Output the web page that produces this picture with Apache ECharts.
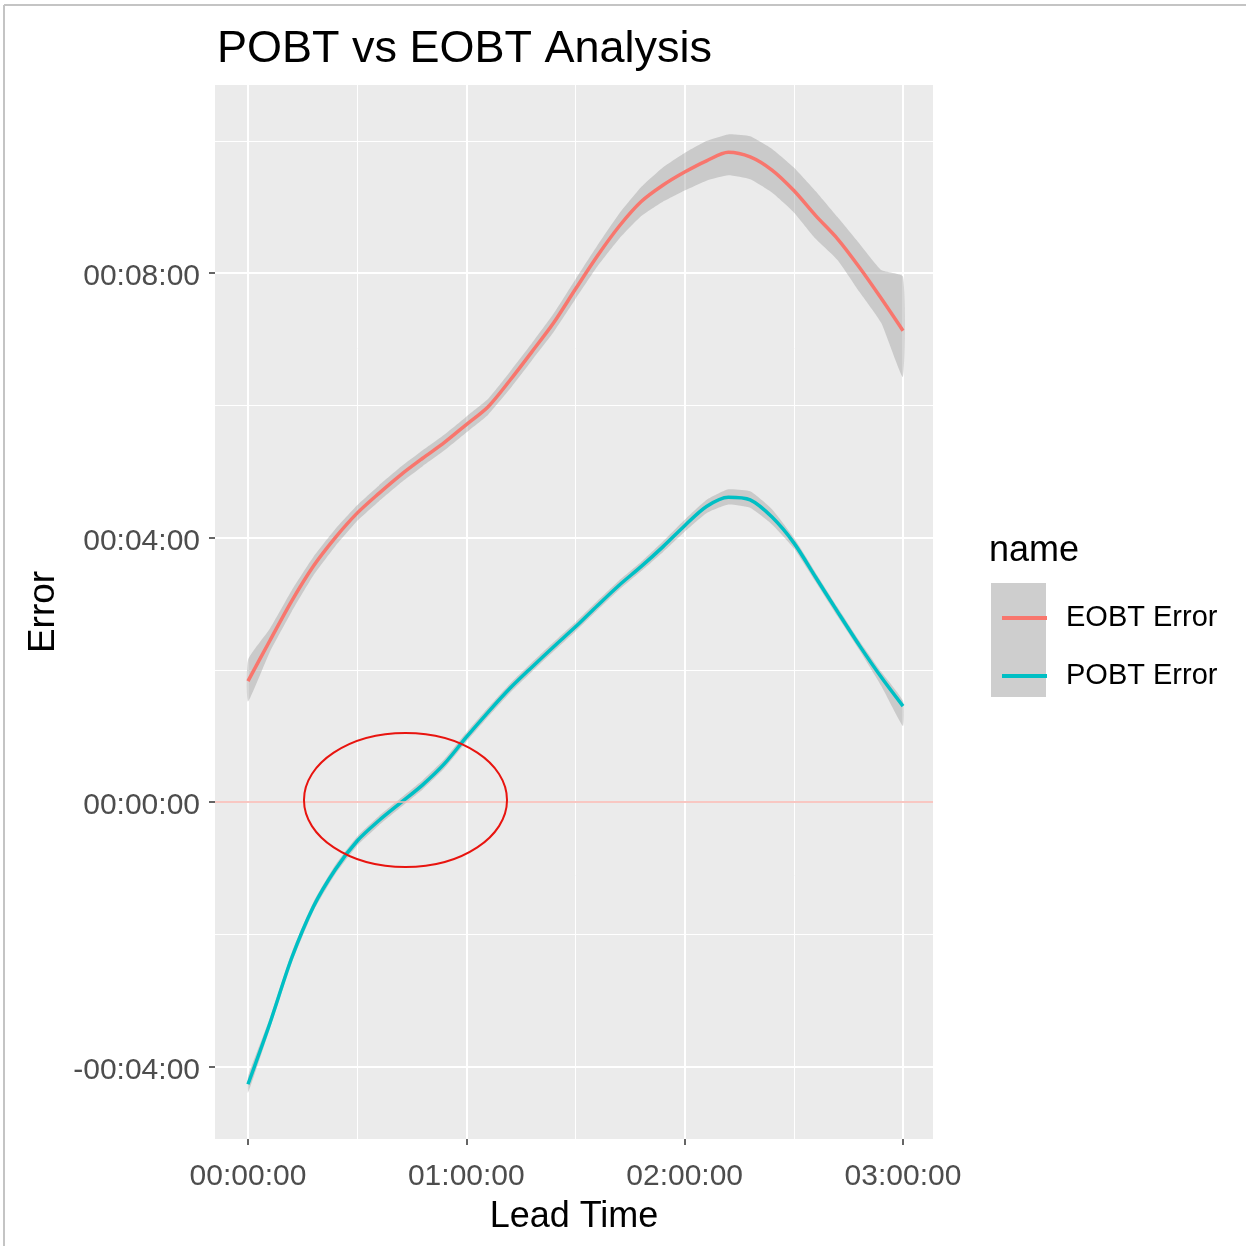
<!DOCTYPE html>
<html>
<head>
<meta charset="utf-8">
<script src="https://cdn.jsdelivr.net/npm/echarts@6.0.0/dist/echarts.min.js"></script>
<style>
html,body{margin:0;padding:0;background:#fff;}
#chart{width:1246px;height:1246px;}
</style>
</head>
<body>
<div id="chart"></div>
<script>
// ---- data (x: lead time in hours, y: error in minutes) ----
const leadTimeHours = [0.0,0.1,0.2,0.3,0.4,0.5,0.6,0.7,0.8,0.9,1.0,1.1,1.2,1.3,1.4,1.5,1.6,1.7,1.8,1.9,2.0,2.1,2.2,2.3,2.4,2.5,2.6,2.7,2.8,2.9,3.0];

const eobtError = [1.83,2.44,3.04,3.57,4.00,4.37,4.67,4.95,5.20,5.44,5.71,5.98,6.38,6.81,7.25,7.76,8.26,8.71,9.08,9.33,9.53,9.70,9.83,9.76,9.56,9.25,8.87,8.52,8.09,7.62,7.13];
const eobtUpper = [2.15,2.62,3.20,3.71,4.13,4.49,4.79,5.07,5.32,5.56,5.83,6.10,6.51,6.94,7.39,7.91,8.42,8.90,9.30,9.60,9.82,10.00,10.10,10.07,9.88,9.60,9.24,8.85,8.45,8.05,7.95];
const eobtLower = [1.52,2.27,2.88,3.43,3.87,4.25,4.55,4.83,5.08,5.32,5.59,5.86,6.25,6.68,7.11,7.61,8.10,8.52,8.86,9.08,9.25,9.40,9.48,9.42,9.22,8.92,8.52,8.20,7.72,7.25,6.43];

const pobtError = [-4.27,-3.35,-2.36,-1.58,-1.02,-0.59,-0.28,-0.01,0.26,0.58,0.98,1.36,1.72,2.04,2.35,2.65,2.97,3.28,3.56,3.86,4.18,4.47,4.61,4.57,4.31,3.92,3.40,2.88,2.37,1.89,1.45];
const pobtUpper = [-4.15,-3.27,-2.28,-1.51,-0.95,-0.52,-0.21,0.06,0.33,0.65,1.05,1.43,1.79,2.11,2.42,2.72,3.04,3.35,3.63,3.94,4.27,4.57,4.73,4.70,4.43,4.00,3.47,2.95,2.44,1.97,1.53];
const pobtLower = [-4.40,-3.43,-2.44,-1.65,-1.09,-0.66,-0.35,-0.08,0.19,0.51,0.91,1.29,1.65,1.97,2.28,2.58,2.90,3.21,3.49,3.78,4.09,4.37,4.50,4.45,4.20,3.84,3.33,2.81,2.30,1.76,1.15];

const seriesNames = ['EOBT Error', 'POBT Error'];

const xTicks = [0, 1, 2, 3];
const xTickLabels = ['00:00:00', '01:00:00', '02:00:00', '03:00:00'];
const xMinorTicks = [0.5, 1.5, 2.5];
const yTicks = [-4, 0, 4, 8];
const yTickLabels = ['-00:04:00', '00:00:00', '00:04:00', '00:08:00'];
const yMinorTicks = [-2, 2, 6, 10];

const referenceLine = [0];
// highlighted region (centre x, centre y, radius x, radius y) in data units
const highlightEllipse = [0.7214, 0.03, 0.465, 1.014];

// ---- chart ----
const FONT = '"Liberation Sans", Arial, sans-serif';
const X_MIN = -0.1511, X_MAX = 3.1374;
const Y_MIN = -5.098, Y_MAX = 10.847;

const pairs = ys => leadTimeHours.map((x, i) => [x, ys[i]]);

function bandSeries(upper, lower) {
  return {
    type: 'custom',
    coordinateSystem: 'cartesian2d',
    silent: true,
    z: 1,
    data: [[leadTimeHours[0], lower[0]]],
    encode: { x: 0, y: 1 },
    renderItem: function (params, api) {
      const pts = [];
      for (let i = 0; i < leadTimeHours.length; i++) pts.push(api.coord([leadTimeHours[i], upper[i]]));
      for (let i = leadTimeHours.length - 1; i >= 0; i--) pts.push(api.coord([leadTimeHours[i], lower[i]]));
      return { type: 'polygon', shape: { points: pts, smooth: 0.15 }, style: { fill: 'rgba(153,153,153,0.4)' } };
    }
  };
}

const chart = echarts.init(document.getElementById('chart'), null, { renderer: 'canvas' });

const option = {
  animation: false,
  backgroundColor: '#ffffff',
  title: {
    text: 'POBT vs EOBT Analysis',
    left: 212, top: 22,
    textStyle: { fontFamily: FONT, fontSize: 45, fontWeight: 'normal', color: '#000' }
  },
  grid: { left: 215, right: 313, top: 85, bottom: 107, show: true, backgroundColor: '#EBEBEB', borderWidth: 0 },
  legend: {
    data: seriesNames,
    orient: 'vertical',
    left: 997, top: 596,
    itemWidth: 45, itemHeight: 4, itemGap: 24,
    icon: 'rect',
    selectedMode: false,
    textStyle: { fontFamily: FONT, fontSize: 29, color: '#000', lineHeight: 34, padding: [0, 0, 0, 14] }
  },
  xAxis: [{
    type: 'value', min: X_MIN, max: X_MAX, position: 'bottom',
    axisLine: { show: false, onZero: false },
    axisTick: { show: true, length: 6, customValues: xTicks, lineStyle: { color: '#333', width: 1.5 } },
    axisLabel: {
      customValues: xTicks, margin: 23, fontFamily: FONT, fontSize: 30, color: '#4D4D4D',
      formatter: v => xTickLabels[xTicks.indexOf(Math.round(v))]
    },
    splitLine: { show: true, lineStyle: { color: '#FFFFFF', width: 2 } },
    name: 'Lead Time', nameLocation: 'middle', nameGap: 60,
    nameTextStyle: { fontFamily: FONT, fontSize: 36, color: '#000' }
  }, {
    type: 'value', min: X_MIN, max: X_MAX, position: 'top',
    axisLine: { show: false, onZero: false },
    axisTick: { show: false, customValues: xMinorTicks },
    axisLabel: { show: false, customValues: xMinorTicks },
    splitLine: { show: true, lineStyle: { color: '#FFFFFF', width: 1 } }
  }],
  yAxis: [{
    type: 'value', min: Y_MIN, max: Y_MAX, position: 'left',
    axisLine: { show: false, onZero: false },
    axisTick: { show: true, length: 6, customValues: yTicks, lineStyle: { color: '#333', width: 1.5 } },
    axisLabel: {
      customValues: yTicks, margin: 15, fontFamily: FONT, fontSize: 30, color: '#4D4D4D',
      formatter: v => '{t|' + yTickLabels[yTicks.indexOf(Math.round(v))] + '}',
      rich: { t: { fontFamily: FONT, fontSize: 30, color: '#4D4D4D', padding: [8, 0, 0, 0] } }
    },
    splitLine: { show: true, lineStyle: { color: '#FFFFFF', width: 2 } },
    name: 'Error', nameLocation: 'middle', nameRotate: 90, nameGap: 152,
    nameTextStyle: { fontFamily: FONT, fontSize: 37, color: '#000' }
  }, {
    type: 'value', min: Y_MIN, max: Y_MAX, position: 'right',
    axisLine: { show: false, onZero: false },
    axisTick: { show: false, customValues: yMinorTicks },
    axisLabel: { show: false, customValues: yMinorTicks },
    splitLine: { show: true, lineStyle: { color: '#FFFFFF', width: 1 } }
  }],
  series: [
    bandSeries(eobtUpper, eobtLower),
    {
      name: seriesNames[0], type: 'line', data: pairs(eobtError),
      color: '#F8766D', showSymbol: false, symbol: 'none', smooth: 0.3, z: 3,
      lineStyle: { width: 3.5, color: '#F8766D' }
    },
    bandSeries(pobtUpper, pobtLower),
    {
      name: seriesNames[1], type: 'line', data: pairs(pobtError),
      color: '#00BFC4', showSymbol: false, symbol: 'none', smooth: 0.3, z: 3,
      lineStyle: { width: 3.5, color: '#00BFC4' },
      markLine: {
        silent: true, symbol: 'none', label: { show: false },
        lineStyle: { color: '#F6B4AE', width: 1.5, type: 'solid' },
        data: referenceLine.map(v => ({ yAxis: v }))
      }
    },
    {
      type: 'custom', coordinateSystem: 'cartesian2d', silent: true, z: 5,
      data: [highlightEllipse],
      encode: { x: 0, y: 1 },
      renderItem: function (params, api) {
        const c = api.coord([api.value(0), api.value(1)]);
        const e = api.coord([api.value(0) + api.value(2), api.value(1) + api.value(3)]);
        return {
          type: 'ellipse',
          shape: { cx: c[0], cy: c[1], rx: Math.abs(e[0] - c[0]), ry: Math.abs(c[1] - e[1]) },
          style: { fill: null, stroke: '#E8140F', lineWidth: 2 }
        };
      }
    }
  ],
  graphic: [
    { type: 'line', shape: { x1: 4, y1: 5, x2: 1246, y2: 5 }, style: { stroke: '#C4C4C4', lineWidth: 2 } },
    { type: 'line', shape: { x1: 4, y1: 5, x2: 4, y2: 1246 }, style: { stroke: '#C4C4C4', lineWidth: 2 } },
    { type: 'rect', shape: { x: 991, y: 583, width: 55, height: 114 }, style: { fill: '#CECECE' } },
    { type: 'text', x: 989, y: 551, style: { text: 'name', fontFamily: FONT, fontSize: 36, fill: '#000', verticalAlign: 'middle' } }
  ]
};

chart.setOption(option);
</script>
</body>
</html>
